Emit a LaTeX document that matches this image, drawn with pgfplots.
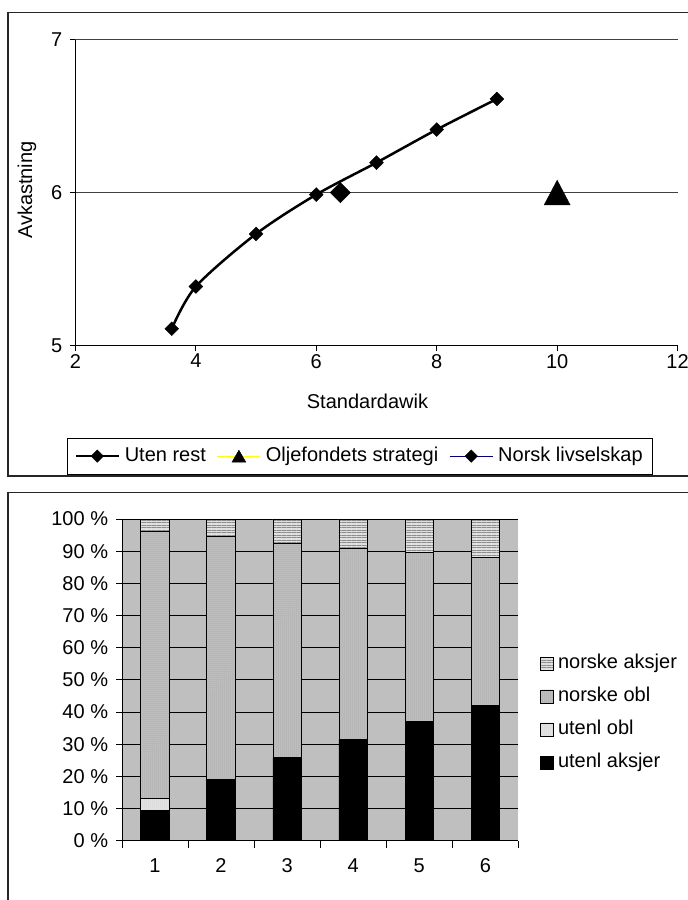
\documentclass[border=0pt]{standalone}
\usepackage{fontspec}
\setmainfont{Liberation Sans}
\usepackage{pgfplots}
\pgfplotsset{compat=1.18}
\usetikzlibrary{patterns,patterns.meta}
\newcommand\chartfont{\fontsize{20pt}{24pt}\selectfont}
\definecolor{navy}{RGB}{0,0,128}
\definecolor{yel}{RGB}{255,255,0}
\begin{document}
\begin{tikzpicture}[font=\chartfont]
\useasboundingbox (0,0) rectangle (688pt,900pt);
\clip (0,0) rectangle (688pt,900pt);
\fill[white] (0,0) rectangle (688pt,900pt);
% frames
\draw[line width=1.3pt, black!85] (8pt,424pt) rectangle (720pt,887.4pt);
\draw[line width=1.3pt, black!85] (8pt,-20pt) rectangle (720pt,407.5pt);

\begin{axis}[
  at={(75.4pt,554.4pt)}, anchor=south west,
  scale only axis, width=602.2pt, height=306pt,
  xmin=2, xmax=12, ymin=5, ymax=7,
  xtick={2,4,...,12}, ytick={5,6,7},
  axis x line*=bottom, axis y line*=left,
  axis line style={-, line width=0.8pt, black},
  ymajorgrids, grid style={black!75, line width=0.7pt},
  tick align=outside, major tick length=5pt,
  tick style={black, line width=0.8pt},
  every tick label/.append style={font=\fontsize{20pt}{24pt}\selectfont},
  yticklabel style={xshift=-4.7pt},
  /pgf/number format/assume math mode=true,
  xlabel={Standardawik}, ylabel={Avkastning},
  every axis label/.append style={font=\fontsize{20pt}{24pt}\selectfont},
  xlabel style={at={(axis description cs:0.485,-0.181)}, anchor=center},
  ylabel style={at={(axis description cs:-0.0804,0.508)}, anchor=center},
  legend columns=3,
  legend style={at={(axis description cs:0.4726,-0.302)}, anchor=north,
    font=\fontsize{20pt}{24pt}\selectfont, draw=black, line width=0.8pt,
    inner xsep=7pt, inner ysep=8pt,
    nodes={inner xsep=2.5pt, inner ysep=0pt, text height=15pt, text depth=4.5pt},
    /tikz/every odd column/.append style={column sep=2.5pt},
    /tikz/every even column/.append style={column sep=8.5pt}},
  legend image code/.code={
    \draw[mark repeat=2,mark phase=2,#1] plot coordinates {(0pt,0pt) (21.5pt,0pt) (43pt,0pt)};
  },
  clip=false,
]
\addlegendimage{black, line width=2pt, mark=square*, mark size=4.4pt, mark options={rotate=45, line width=0.4pt, solid}}
\addlegendentry{Uten rest}
\addlegendimage{yel, line width=1pt, mark=triangle*, mark size=8pt, mark options={black, line width=0.4pt, yshift=-2pt}}
\addlegendentry{Oljefondets strategi}
\addlegendimage{navy, line width=1pt, mark=square*, mark size=4.4pt, mark options={black, rotate=45, line width=0.4pt}}
\addlegendentry{Norsk livselskap}

\addplot[black, line width=2.5pt, smooth, mark=square*, mark size=4.9pt,
  mark options={rotate=45, line width=0.4pt, solid}, forget plot]
  coordinates {(3.6,5.11) (4,5.386) (5,5.73) (6,5.987) (7,6.196) (8,6.412) (9,6.612)};
\addplot[only marks, mark=square*, mark size=7.2pt,
  mark options={black, rotate=45, line width=0.4pt}, forget plot]
  coordinates {(6.4,6.0)};
\addplot[only marks, mark=triangle*, mark size=15pt,
  mark options={black, line width=0.4pt, yshift=-4.1pt, yscale=1.1}, forget plot]
  coordinates {(10,6.0)};
\end{axis}

\begin{axis}[
  at={(121.9pt,59.3pt)}, anchor=south west,
  scale only axis, width=396.5pt, height=321.7pt,
  ybar stacked, bar width=0.43,
  xmin=0.5, xmax=6.5, ymin=0, ymax=100,
  xtick={1,...,6}, ytick={0,10,...,100},
  yticklabels={0 \%,10 \%,20 \%,30 \%,40 \%,50 \%,60 \%,70 \%,80 \%,90 \%,100 \%},
  minor xtick={0.5,1.5,...,6.5},
  axis x line*=bottom, axis y line*=left,
  axis line style={-, line width=0.8pt, black},
  axis background/.style={fill=black!25},
  ymajorgrids, grid style={black, line width=0.7pt},
  tick align=outside, major tick length=6pt, minor tick length=7pt,
  tick style={black, line width=0.8pt},
  major x tick style={draw=none},
  every tick label/.append style={font=\fontsize{20pt}{24pt}\selectfont},
  yticklabel style={xshift=-4.3pt},
  xticklabel style={yshift=-8.5pt},
  /pgf/number format/assume math mode=true,
  reverse legend,
  legend cell align=left,
  legend style={at={(axis description cs:1.0545,0.397)}, anchor=west,
    draw=none, fill=none, inner sep=0pt, font=\fontsize{20pt}{24pt}\selectfont, row sep=14pt,
    nodes={inner ysep=0pt, inner xsep=2pt, text height=14.5pt, text depth=4.5pt},
    /tikz/every odd column/.append style={column sep=2pt}},
  mylegend/.style={legend image code/.code={\draw[##1, line width=0.8pt] (0pt,-6.5pt) rectangle (13pt,6.5pt);}},
  clip=false,
]
\addplot[fill=black, draw=black, line width=0.8pt, mylegend]
  coordinates {(1,9.5) (2,19) (3,26) (4,31.5) (5,37) (6,42)};
\addlegendentry{utenl aksjer}
\addplot[fill=black!10, draw=black, line width=0.8pt, mylegend,
  postaction={pattern={Dots[distance=2pt,radius=0.5pt]}, pattern color=black!25}]
  coordinates {(1,3.5) (2,0) (3,0) (4,0) (5,0) (6,0)};
\addlegendentry{utenl obl}
\addplot[fill=black!24, draw=black, line width=0.8pt, mylegend,
  postaction={pattern={Dots[distance=2pt,radius=0.5pt]}, pattern color=black!45}]
  coordinates {(1,83) (2,75.5) (3,66.5) (4,59.5) (5,52.5) (6,46)};
\addlegendentry{norske obl}
\addplot[fill=black!12, draw=black, line width=0.8pt, mylegend,
  postaction={pattern={Lines[angle=0,distance=2.5pt,line width=0.9pt]}, pattern color=black!45}]
  coordinates {(1,4) (2,5.5) (3,7.5) (4,9) (5,10.5) (6,12)};
\addlegendentry{norske aksjer}
\end{axis}
\end{tikzpicture}
\end{document}
